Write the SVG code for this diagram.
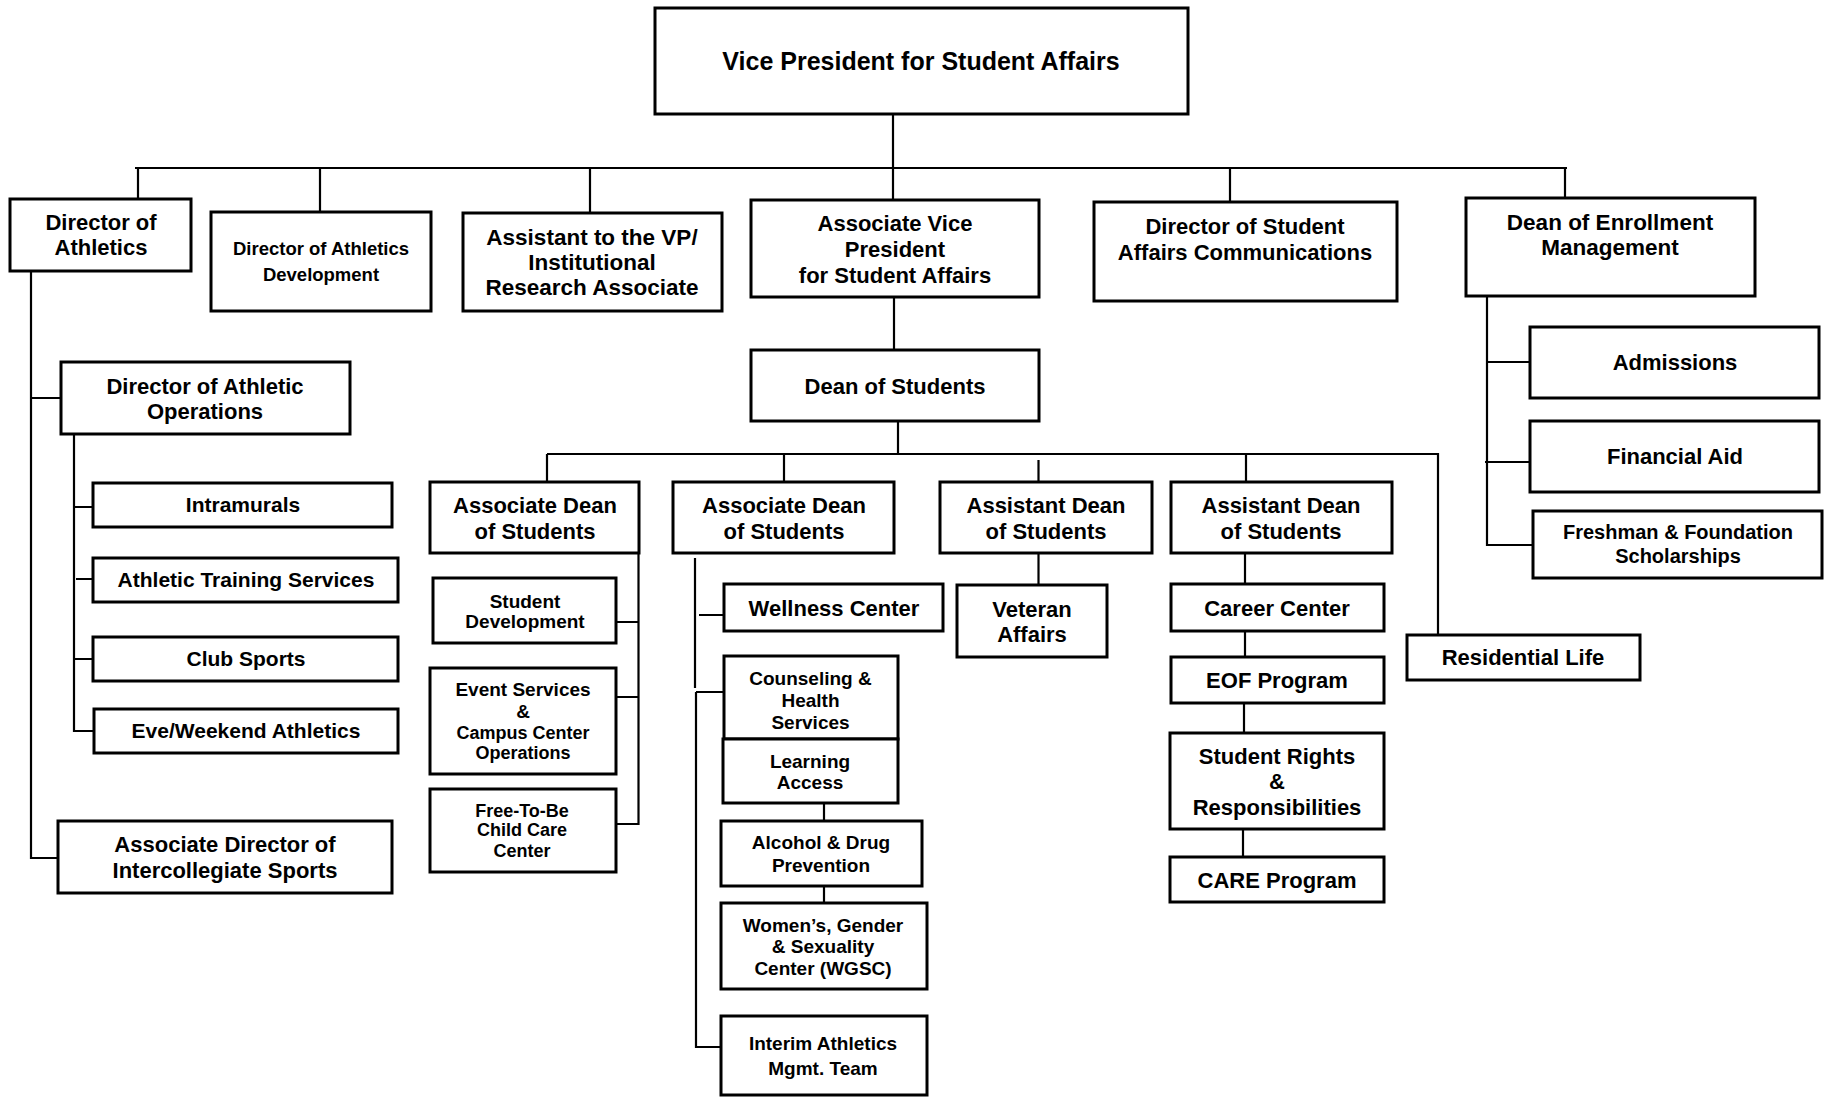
<svg xmlns="http://www.w3.org/2000/svg" width="1829" height="1097" viewBox="0 0 1829 1097">
<style>
rect.b{fill:#fff;stroke:#000;stroke-width:3}
.c path{fill:none;stroke:#000;stroke-width:2.2}
text{font-family:"Liberation Sans",Arial,sans-serif;font-weight:bold;fill:#000;text-anchor:middle;transform:translateY(-1.5px)}
.f25{font-size:25px}.f22{font-size:22px}.f225{font-size:22.5px}.f21{font-size:21px}.f20{font-size:20px}.f19{font-size:19px}.f18{font-size:18px}.f185{font-size:18.5px}
</style>
<rect width="1829" height="1097" fill="#fff"/>
<g class="c" id="connectors">
<path d="M893,114V200"/>
<path d="M135,168H1567"/>
<path d="M138,168V199M320,168V212M590,168V213M1230,168V202M1565,168V198"/>
<path d="M31,271V858H58M31,398H61"/>
<path d="M74,434V731H94M74,507H93M76,579H93M74,659H93"/>
<path d="M1487,296V545H1533M1487,362H1530M1485,462H1530"/>
<path d="M894,297V350"/>
<path d="M898,421V455"/>
<path d="M547,454H1438V635"/>
<path d="M547,454V482M784,454V482M1038.5,460V482M1246,454V482"/>
<path d="M638.5,553V824H616M616,622H638.5M616,697H638.5"/>
<path d="M695,558V688M696,692V1047H721M696,692H724M699,615H724"/>
<path d="M824,803V821M824,886V903"/>
<path d="M1038.5,553V585"/>
<path d="M1245,553V584M1245,631V657M1244,703V733M1243,829V857"/>
</g>
<g id="vp"><rect class="b" x="655" y="8" width="533" height="106"/><text class="f25" x="921" y="71">Vice President for Student Affairs</text></g>
<g id="dir-athletics"><rect class="b" x="10" y="199" width="181" height="72"/><text class="f22" x="101" y="231">Director of</text><text class="f22" x="101" y="256">Athletics</text></g>
<g id="dir-athletics-dev"><rect class="b" x="211" y="212" width="220" height="99"/><text class="f185" x="321" y="256.5">Director of Athletics</text><text class="f185" x="321" y="282.5">Development</text></g>
<g id="asst-vp"><rect class="b" x="463" y="213" width="259" height="98"/><text class="f225" x="592" y="246">Assistant to the VP/</text><text class="f225" x="592" y="271">Institutional</text><text class="f225" x="592" y="296">Research Associate</text></g>
<g id="avp"><rect class="b" x="751" y="200" width="288" height="97"/><text class="f22" x="895" y="232">Associate Vice</text><text class="f22" x="895" y="258">President</text><text class="f22" x="895" y="284">for Student Affairs</text></g>
<g id="dir-comm"><rect class="b" x="1094" y="202" width="303" height="99"/><text class="f22" x="1245" y="235">Director of Student</text><text class="f22" x="1245" y="261">Affairs Communications</text></g>
<g id="dean-enroll"><rect class="b" x="1466" y="198" width="289" height="98"/><text class="f225" x="1610" y="231">Dean of Enrollment</text><text class="f225" x="1610" y="256">Management</text></g>
<g id="admissions"><rect class="b" x="1530" y="327" width="289" height="71"/><text class="f22" x="1675" y="371">Admissions</text></g>
<g id="financial-aid"><rect class="b" x="1530" y="421" width="289" height="71"/><text class="f22" x="1675" y="465">Financial Aid</text></g>
<g id="freshman"><rect class="b" x="1533" y="511" width="289" height="67"/><text class="f20" x="1678" y="540">Freshman &amp; Foundation</text><text class="f20" x="1678" y="564">Scholarships</text></g>
<g id="dir-ath-ops"><rect class="b" x="61" y="362" width="289" height="72"/><text class="f22" x="205" y="395">Director of Athletic</text><text class="f22" x="205" y="420">Operations</text></g>
<g id="intramurals"><rect class="b" x="93" y="483" width="299" height="44"/><text class="f21" x="243" y="513">Intramurals</text></g>
<g id="ath-training"><rect class="b" x="93" y="558" width="305" height="44"/><text class="f21" x="246" y="588">Athletic Training Services</text></g>
<g id="club-sports"><rect class="b" x="93" y="637" width="305" height="44"/><text class="f21" x="246" y="667">Club Sports</text></g>
<g id="eve-weekend"><rect class="b" x="94" y="709" width="304" height="44"/><text class="f21" x="246" y="739">Eve/Weekend Athletics</text></g>
<g id="assoc-dir-intercoll"><rect class="b" x="58" y="821" width="334" height="72"/><text class="f22" x="225" y="853">Associate Director of</text><text class="f22" x="225" y="879">Intercollegiate Sports</text></g>
<g id="dean-students"><rect class="b" x="751" y="350" width="288" height="71"/><text class="f22" x="895" y="395">Dean of Students</text></g>
<g id="assoc-dean-1"><rect class="b" x="430" y="482" width="209" height="71"/><text class="f22" x="535" y="514">Associate Dean</text><text class="f22" x="535" y="540">of Students</text></g>
<g id="student-dev"><rect class="b" x="433" y="578" width="183" height="65"/><text class="f19" x="525" y="609">Student</text><text class="f19" x="525" y="629">Development</text></g>
<g id="event-services"><rect class="b" x="430" y="668" width="186" height="106"/><text class="f19" x="523" y="697">Event Services</text><text class="f19" x="523" y="719">&amp;</text><text class="f18" x="523" y="740.5">Campus Center</text><text class="f18" x="523" y="760.5">Operations</text></g>
<g id="free-to-be"><rect class="b" x="430" y="789" width="186" height="83"/><text class="f18" x="522" y="818.5">Free-To-Be</text><text class="f18" x="522" y="837.5">Child Care</text><text class="f18" x="522" y="858.5">Center</text></g>
<g id="assoc-dean-2"><rect class="b" x="673" y="482" width="221" height="71"/><text class="f22" x="784" y="514">Associate Dean</text><text class="f22" x="784" y="540">of Students</text></g>
<g id="wellness"><rect class="b" x="724" y="584" width="219" height="47"/><text class="f22" x="834" y="617">Wellness Center</text></g>
<g id="counseling"><rect class="b" x="724" y="656" width="174" height="83"/><text class="f19" x="810.5" y="686">Counseling &amp;</text><text class="f19" x="810.5" y="708">Health</text><text class="f19" x="810.5" y="730">Services</text></g>
<g id="learning-access"><rect class="b" x="723" y="739" width="175" height="64"/><text class="f19" x="810" y="769">Learning</text><text class="f19" x="810" y="790">Access</text></g>
<g id="alcohol-drug"><rect class="b" x="721" y="821" width="201" height="65"/><text class="f19" x="821" y="850">Alcohol &amp; Drug</text><text class="f19" x="821" y="873">Prevention</text></g>
<g id="wgsc"><rect class="b" x="721" y="903" width="206" height="86"/><text class="f19" x="823" y="933">Women’s, Gender</text><text class="f19" x="823" y="954">&amp; Sexuality</text><text class="f19" x="823" y="976">Center (WGSC)</text></g>
<g id="interim-athletics"><rect class="b" x="721" y="1016" width="206" height="79"/><text class="f19" x="823" y="1051">Interim Athletics</text><text class="f19" x="823" y="1076">Mgmt. Team</text></g>
<g id="asst-dean-1"><rect class="b" x="940" y="482" width="212" height="71"/><text class="f22" x="1046" y="514">Assistant Dean</text><text class="f22" x="1046" y="540">of Students</text></g>
<g id="veteran"><rect class="b" x="957" y="585" width="150" height="72"/><text class="f22" x="1032" y="618">Veteran</text><text class="f22" x="1032" y="643">Affairs</text></g>
<g id="asst-dean-2"><rect class="b" x="1171" y="482" width="221" height="71"/><text class="f22" x="1281" y="514">Assistant Dean</text><text class="f22" x="1281" y="540">of Students</text></g>
<g id="career"><rect class="b" x="1171" y="584" width="213" height="47"/><text class="f22" x="1277" y="617">Career Center</text></g>
<g id="eof"><rect class="b" x="1171" y="657" width="213" height="46"/><text class="f22" x="1277" y="689">EOF Program</text></g>
<g id="student-rights"><rect class="b" x="1170" y="733" width="214" height="96"/><text class="f22" x="1277" y="765">Student Rights</text><text class="f22" x="1277" y="790">&amp;</text><text class="f22" x="1277" y="816">Responsibilities</text></g>
<g id="care"><rect class="b" x="1170" y="857" width="214" height="45"/><text class="f22" x="1277" y="889">CARE Program</text></g>
<g id="residential-life"><rect class="b" x="1407" y="635" width="233" height="45"/><text class="f22" x="1523" y="666">Residential Life</text></g>
</svg>
